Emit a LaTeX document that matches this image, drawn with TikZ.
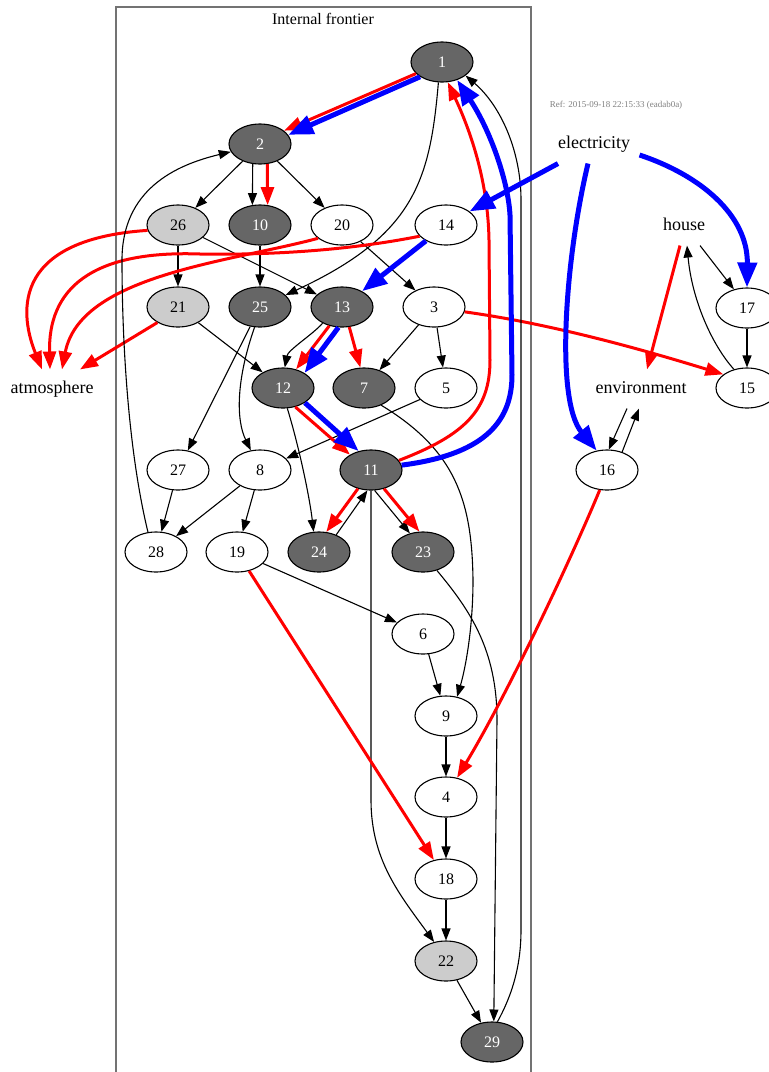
\documentclass[tikz,border=0pt]{standalone}
\usepackage{fontspec}
\setmainfont{Liberation Serif}
\usepackage{tikz}
\usetikzlibrary{shapes.geometric, arrows.meta}
\definecolor{darkfill}{gray}{0.4}
\definecolor{lightfill}{gray}{0.8}
\definecolor{framegray}{gray}{0.45}
\newcommand{\numfont}{\fontsize{16}{18}\selectfont}
\newcommand{\wordfont}{\fontsize{18}{20}\selectfont}
\tikzstyle{whitenode} = [ellipse, draw=black, fill=white, minimum width=62pt, minimum height=40pt, inner sep=0pt, font=\numfont]
\tikzstyle{greynode} = [whitenode, fill=lightfill]
\tikzstyle{darknode} = [whitenode, fill=darkfill, text=white]
\tikzstyle{plaintext} = [rectangle, inner xsep=9pt, inner ysep=0pt, minimum height=38pt, text height=12pt, text depth=4pt, font=\wordfont]
\tikzstyle{arrow} = [->,>={Triangle[length=12pt,width=9pt]}]
\tikzstyle{redarrow} = [->,>={Triangle[length=18pt,width=13pt]}, red, line width=3pt]
\tikzstyle{bluearrow} = [->,>={Triangle[length=25pt,width=19pt]}, blue, line width=5pt]

\begin{document}
\begin{tikzpicture}[x=1pt, y=-1pt, line width=1.1pt]
        \useasboundingbox (0,0) rectangle (769,1072);
        % cluster
        \draw [framegray, line width=1.6pt] (116,7) rectangle (531,1100);
        \node (title) [font=\numfont, anchor=base] at (323,24) {Internal frontier};
        \node (refnote) [font=\fontsize{9}{10}\selectfont, text=gray, anchor=base] at (616,107) {Ref: 2015-09-18 22:15:33 (eadab0a)};
        % nodes, rank by rank
        \node (n1) [darknode] at (442,62) {1};
        \node (n2) [darknode] at (260,144) {2};
        \node (n26) [greynode] at (178,225) {26};
        \node (n10) [darknode] at (260,225) {10};
        \node (n20) [whitenode] at (342,225) {20};
        \node (n14) [whitenode] at (446,225) {14};
        \node (n21) [greynode] at (178,307) {21};
        \node (n25) [darknode] at (260,307) {25};
        \node (n13) [darknode] at (342,307) {13};
        \node (n3) [whitenode] at (434,307) {3};
        \node (n12) [darknode] at (283,388) {12};
        \node (n7) [darknode] at (364,388) {7};
        \node (n5) [whitenode] at (446,388) {5};
        \node (n27) [whitenode] at (178,470) {27};
        \node (n8) [whitenode] at (260,470) {8};
        \node (n11) [darknode] at (371,470) {11};
        \node (n28) [whitenode] at (156,552) {28};
        \node (n19) [whitenode] at (237,552) {19};
        \node (n24) [darknode] at (319,552) {24};
        \node (n23) [darknode] at (423,552) {23};
        \node (n6) [whitenode] at (423,634) {6};
        \node (n9) [whitenode] at (446,716) {9};
        \node (n4) [whitenode] at (446,797) {4};
        \node (n18) [whitenode] at (446,879) {18};
        \node (n22) [greynode] at (446,961) {22};
        \node (n29) [darknode] at (492,1042) {29};
        \node (n16) [whitenode] at (607,470) {16};
        \node (n17) [whitenode] at (747,308) {17};
        \node (n15) [whitenode] at (747,388) {15};
        \node (elec) [plaintext] at (594,144) {electricity};
        \node (house) [plaintext] at (684,226) {house};
        \node (env) [plaintext] at (641,389) {environment};
        \node (atm) [plaintext] at (52,389) {atmosphere};
        % edges
        \draw [redarrow] (n1.-156) -- (n2.29);
        \draw [bluearrow] (n1.-146) -- (n2.18);
        \draw [arrow] (n1.-100) .. controls (430,180) and (415,235) .. (n25.25);
        \draw [arrow] (n2) -- (n26);
        \draw [arrow] (n2.-110) -- (n10.111);
        \draw [redarrow] (n2.-70) -- (n10.69);
        \draw [arrow] (n2) -- (n20);
        \draw [arrow] (n26) -- (n21);
        \draw [arrow] (n26) -- (n13);
        \draw [arrow] (n10) -- (n25);
        \draw [arrow] (n20) -- (n3);
        \draw [bluearrow] (n14) -- (n13);
        \draw [redarrow] (n26.190) .. controls (5,240) and (22,320) .. ([xshift=-10pt]atm.north);
        \draw [redarrow] (n14.-157) .. controls (340,252) and (260,255) .. (200,254) .. controls (90,250) and (48,290) .. ([xshift=-2pt]atm.north);
        \draw [redarrow] (n20.-151) .. controls (230,262) and (80,275) .. ([xshift=10pt]atm.north);
        \draw [redarrow] (n21.-143) -- ([xshift=28pt]atm.north);
        \draw [arrow] (n21) -- (n12);
        \draw [arrow] (n25) -- (n27);
        \draw [arrow] (n25.-105) .. controls (236,380) and (236,420) .. (n8.115);
        \draw [arrow] (n13.-140) .. controls (312,335) and (288,350) .. (n12.85);
        \draw [redarrow] (n13.-124) -- (n12.55);
        \draw [bluearrow] (n13.-100) -- (n12.35);
        \draw [redarrow] (n13.-70) -- (n7.100);
        \draw [arrow] (n3) -- (n7);
        \draw [arrow] (n3) -- (n5);
        \draw [redarrow] (n3.-9) .. controls (560,325) and (660,355) .. (n15.150);
        \draw [arrow] (n5) -- (n8);
        \draw [arrow] (n7.-45) .. controls (455,450) and (472,500) .. (473,580) .. controls (473,630) and (465,670) .. (n9.60);
        \draw [redarrow] (n12.-57) -- (n11.144);
        \draw [bluearrow] (n12.-34) -- (n11.123);
        \draw [arrow] (n12.-78) .. controls (300,450) and (310,500) .. (n24.105);
        \draw [redarrow] (n11.19) .. controls (465,435) and (490,410) .. (490,360) -- (489,240) .. controls (488,180) and (470,130) .. (n1.-74);
        \draw [bluearrow] (n11.9) .. controls (480,455) and (512,425) .. (512,375) -- (510,215) .. controls (508,180) and (490,130) .. (n1.-50);
        \draw [redarrow] (n11.-125) -- (n24.70);
        \draw [arrow] (n24.45) -- (n11.-100);
        \draw [arrow] (n11.-80) -- (n23.125);
        \draw [redarrow] (n11.-55) -- (n23.100);
        \draw [arrow] (n11.south) -- (371,800) .. controls (371,860) and (400,895) .. (n22.122);
        \draw [arrow] (n23.-53) .. controls (470,610) and (497,650) .. (497,720) -- (n29.85);
        \draw [arrow] (n27) -- (n28);
        \draw [arrow] (n8) -- (n28);
        \draw [arrow] (n8) -- (n19);
        \draw [arrow] (n28.112) .. controls (128,450) and (122,340) .. (122,260) .. controls (122,190) and (175,165) .. (n2.195);
        \draw [arrow] (n19) -- (n6);
        \draw [redarrow] (n19) -- (n18);
        \draw [arrow] (n6) -- (n9);
        \draw [arrow] (n9) -- (n4);
        \draw [arrow] (n4) -- (n18);
        \draw [arrow] (n18) -- (n22);
        \draw [arrow] (n22) -- (n29);
        \draw [arrow] (n29.75) .. controls (515,990) and (521,960) .. (521,930) -- (521,200) .. controls (521,150) and (500,105) .. (n1.-30);
        \draw [bluearrow] ([xshift=-36pt]elec.south) -- (n14.30);
        \draw [bluearrow] ([xshift=-6pt]elec.south) .. controls (565,260) and (555,400) .. (n16.118);
        \draw [bluearrow] ([yshift=-11pt]elec.east) .. controls (700,175) and (748,215) .. (n17.north);
        \draw [arrow] ([xshift=16pt]house.south) -- (n17.125);
        \draw [redarrow] ([xshift=-4pt]house.south) -- ([xshift=6pt]env.north);
        \draw [arrow] (n17) -- (n15);
        \draw [arrow] (n15.125) .. controls (712,345) and (692,300) .. ([xshift=3pt]house.south);
        \draw [arrow] ([xshift=-14pt]env.south) -- (n16.85);
        \draw [arrow] (n16.50) -- ([xshift=-2pt]env.south);
        \draw [redarrow] (n16.-110) .. controls (575,550) and (510,690) .. (n4.60);
\end{tikzpicture}
\end{document}
